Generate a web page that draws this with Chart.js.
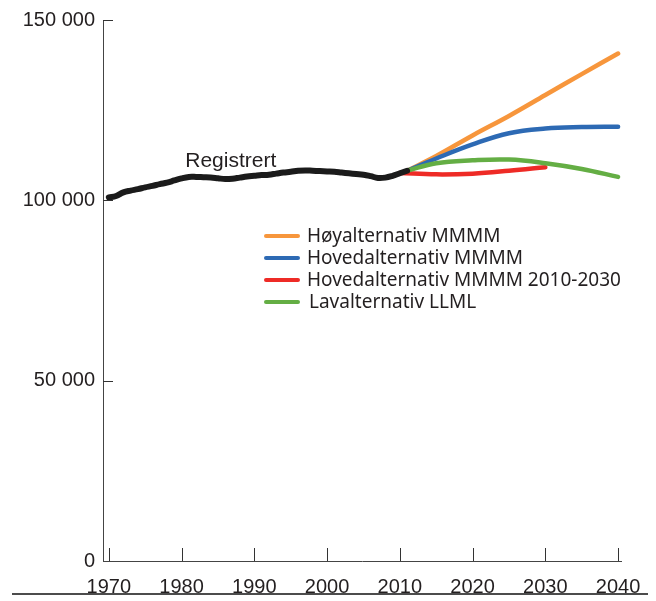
<!DOCTYPE html>
<html>
<head>
<meta charset="utf-8">
<script src="https://cdn.jsdelivr.net/npm/chart.js"></script>
<style>
  html, body { margin: 0; padding: 0; background: #fff; }
  #wrap { width: 656px; height: 601px; }
</style>
</head>
<body>
<div id="wrap"><canvas id="chart" width="656" height="601"></canvas></div>
<script>
// Registered population, 1970-2011
const regYears = [1970, 1971, 1972, 1973, 1974, 1975, 1976, 1977, 1978, 1979,
  1980, 1981, 1982, 1983, 1984, 1985, 1986, 1987, 1988, 1989,
  1990, 1991, 1992, 1993, 1994, 1995, 1996, 1997, 1998, 1999,
  2000, 2001, 2002, 2003, 2004, 2005, 2006, 2007, 2008, 2009, 2010, 2011];
const regValues = [100800, 101200, 102200, 102700, 103100, 103600, 104000, 104500, 104900, 105500,
  106100, 106500, 106500, 106400, 106300, 106100, 105900, 106000, 106300, 106600,
  106800, 107000, 107100, 107400, 107700, 107900, 108200, 108300, 108200, 108100,
  108000, 107900, 107700, 107500, 107300, 107100, 106700, 106200, 106300, 106800, 107500, 108200];

// Projections
const projYears = [2011, 2015, 2020, 2025, 2030, 2035, 2040];
const highValues = [108200, 112300, 118000, 123400, 129200, 135000, 140700];
const mainValues = [108200, 111600, 115500, 118600, 119900, 120300, 120400];
const lowValues = [108200, 110300, 111100, 111300, 110300, 108700, 106500];
const oldYears = [2010, 2015, 2020, 2025, 2030];
const oldValues = [107600, 107200, 107400, 108200, 109200];

const xTicks = [1970, 1980, 1990, 2000, 2010, 2020, 2030, 2040];
const yTicks = [0, 50000, 100000, 150000];

const legendLabels = ['Høyalternativ MMMM', 'Hovedalternativ MMMM', 'Hovedalternativ MMMM 2010-2030', 'Lavalternativ LLML'];
const regLabel = 'Registrert';

const colors = {
  high: '#F7963C',
  main: '#2D6AB4',
  old: '#EE2B26',
  low: '#64AE44',
  reg: '#1b1b1b'
};

const pts = (xs, ys) => xs.map((x, i) => ({ x: x, y: ys[i] }));
const fmt = v => String(v).replace(/\B(?=(\d{3})+(?!\d))/g, ' ');

const decor = {
  id: 'decor',
  afterDraw(chart) {
    const ctx = chart.ctx;
    const xs = chart.scales.x, ys = chart.scales.y;
    const area = chart.chartArea;
    ctx.save();

    // axis ticks, pointing inward
    ctx.strokeStyle = '#333';
    ctx.lineWidth = 1;
    xTicks.forEach(t => {
      const px = Math.round(xs.getPixelForValue(t)) + 0.5;
      ctx.beginPath();
      ctx.moveTo(px, area.bottom);
      ctx.lineTo(px, area.bottom - 13);
      ctx.stroke();
    });
    yTicks.slice(1).forEach(t => {
      const py = Math.round(ys.getPixelForValue(t)) + 0.5;
      ctx.beginPath();
      ctx.moveTo(area.left, py);
      ctx.lineTo(area.left + 10, py);
      ctx.stroke();
    });

    // legend
    const rows = [colors.high, colors.main, colors.old, colors.low];
    ctx.font = '19px "Noto Sans"';
    ctx.textBaseline = 'middle';
    ctx.fillStyle = '#231f20';
    rows.forEach((c, i) => {
      const y = 236 + i * 22;
      ctx.strokeStyle = c;
      ctx.lineWidth = 4;
      ctx.lineCap = 'round';
      ctx.beginPath();
      ctx.moveTo(266, y);
      ctx.lineTo(298, y);
      ctx.stroke();
      ctx.fillText(legendLabels[i], i === 3 ? 309 : 307, y + 1);
    });

    // label for registered series
    ctx.font = '21px "Liberation Sans", Arial, sans-serif';
    ctx.fillStyle = '#231f20';
    ctx.fillText(regLabel, xs.getPixelForValue(1980.5), ys.getPixelForValue(110900));

    // bottom rule
    ctx.strokeStyle = '#111';
    ctx.lineWidth = 1.5;
    ctx.lineCap = 'butt';
    ctx.beginPath();
    ctx.moveTo(12, 594);
    ctx.lineTo(648, 594);
    ctx.stroke();
    ctx.restore();
  }
};

const lineSet = (label, data, color, width, order) => ({
  label: label,
  data: data,
  borderColor: color,
  backgroundColor: color,
  borderWidth: width,
  pointRadius: 0,
  tension: 0.4,
  borderCapStyle: 'round',
  borderJoinStyle: 'round',
  fill: false,
  order: order
});

new Chart(document.getElementById('chart'), {
  type: 'line',
  data: {
    datasets: [
      lineSet(legendLabels[0], pts(projYears, highValues), colors.high, 4.5, 5),
      lineSet(legendLabels[1], pts(projYears, mainValues), colors.main, 4.5, 4),
      lineSet(legendLabels[2], pts(oldYears, oldValues), colors.old, 4.5, 3),
      lineSet(legendLabels[3], pts(projYears, lowValues), colors.low, 4.5, 2),
      lineSet(regLabel, pts(regYears, regValues), colors.reg, 6, 1)
    ]
  },
  options: {
    responsive: false,
    animation: false,
    layout: { padding: { top: 20, right: 35, left: 0, bottom: 0 } },
    plugins: {
      legend: { display: false },
      tooltip: { enabled: false }
    },
    scales: {
      x: {
        type: 'linear',
        min: 1969.2,
        max: 2040.4,
        afterBuildTicks: s => { s.ticks = xTicks.map(v => ({ value: v })); },
        afterFit: s => { s.height = 40; },
        grid: { display: false, drawTicks: false },
        border: { display: true, color: '#444', width: 1 },
        ticks: {
          padding: 14,
          color: '#231f20',
          font: { family: '"Liberation Sans", Arial, sans-serif', size: 20 },
          maxRotation: 0,
          callback: v => String(v)
        }
      },
      y: {
        min: 0,
        max: 150000,
        afterBuildTicks: s => { s.ticks = yTicks.map(v => ({ value: v })); },
        afterFit: s => { s.width = 103; },
        grid: { display: false, drawTicks: false },
        border: { display: true, color: '#444', width: 1 },
        ticks: {
          padding: 8,
          color: '#231f20',
          font: { family: '"Liberation Sans", Arial, sans-serif', size: 20 },
          callback: v => fmt(v)
        }
      }
    }
  },
  plugins: [decor]
});
</script>
</body>
</html>
